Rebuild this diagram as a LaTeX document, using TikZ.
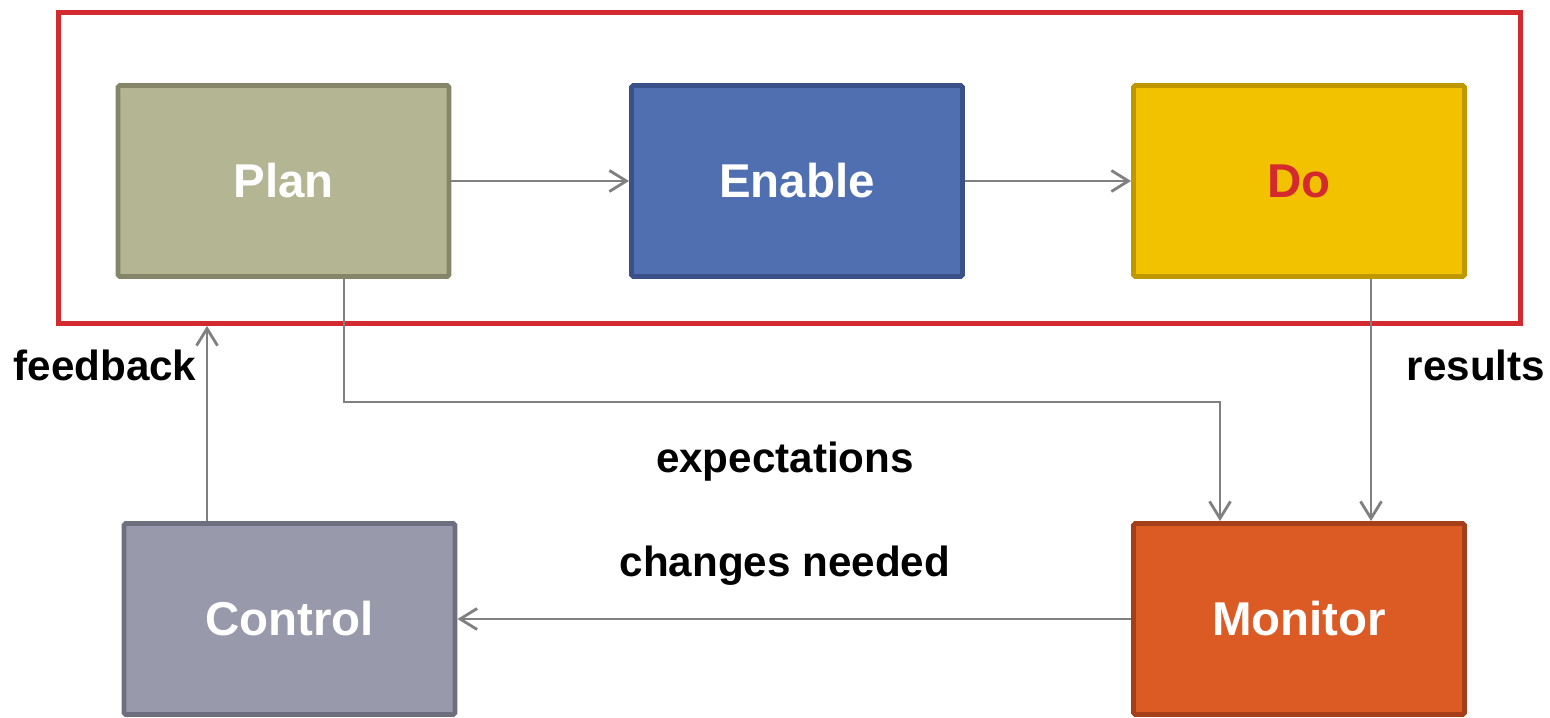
\documentclass[tikz,border=0pt]{standalone}
\usepackage{fontspec}
\setmainfont{Liberation Sans}
\usetikzlibrary{positioning, calc, arrows.meta}
\definecolor{planFill}{HTML}{B4B592}
\definecolor{planLine}{HTML}{85856A}
\definecolor{enableFill}{HTML}{506FB0}
\definecolor{enableLine}{HTML}{3A5088}
\definecolor{doFill}{HTML}{F2C200}
\definecolor{doLine}{HTML}{BF9800}
\definecolor{doText}{HTML}{D42A2E}
\definecolor{controlFill}{HTML}{9899AA}
\definecolor{controlLine}{HTML}{6E6F7E}
\definecolor{monitorFill}{HTML}{DC5A24}
\definecolor{monitorLine}{HTML}{A43F19}
\definecolor{frameLine}{HTML}{D22A2E}
\colorlet{linkGray}{black!50}
\tikzstyle{stage}=[rectangle, rounded corners=1pt, line width=2.8pt,
  minimum width=6.62cm, minimum height=3.82cm, text=white,
  font=\bfseries\fontsize{27}{32}\selectfont]
\tikzstyle{phaseFrame}=[rectangle, draw=frameLine, line width=2.8pt,
  minimum width=29.24cm, minimum height=6.22cm]
\tikzstyle{link}=[-{Straight Barb[length=3.4mm,width=4.2mm]}, line width=1.6pt,
  draw=linkGray]
\tikzstyle{flowLabel}=[font=\bfseries\fontsize{24}{28}\selectfont, anchor=base,
  inner sep=0pt]

\begin{document}
\begin{tikzpicture}
      \useasboundingbox (0,0) rectangle (31,14.34);

      \node[phaseFrame] (phase) at (15.79,10.98) {};
      \node[stage, fill=planFill, draw=planLine] (plan) at (5.67,10.72) {Plan};
      \node[stage, fill=enableFill, draw=enableLine] (enable) at (15.94,10.72) {Enable};
      \node[stage, fill=doFill, draw=doLine, text=doText] (do) at (25.98,10.72) {Do};
      \node[stage, fill=controlFill, draw=controlLine] (control) at (5.79,1.96) {Control};
      \node[stage, fill=monitorFill, draw=monitorLine] (monitor) at (25.98,1.96) {Monitor};

      \coordinate (expBend) at (24.4,6.3);

      \draw[link] (plan) -- (enable);
      \draw[link] (enable) -- (do);
      \draw[link] ([xshift=12.1mm]plan.south) |- (expBend) -- (expBend |- monitor.north);
      \draw[link] ([xshift=14.4mm]do.south) -- ([xshift=14.4mm]monitor.north);
      \draw[link] (monitor) -- (control);
      \draw[link] ([xshift=-16.5mm]control.north) -- ([xshift=-16.5mm]control.north |- phase.south);

      \node[flowLabel] (feedbackLbl) at (2.1,6.72) {feedback};
      \node[flowLabel] (resultsLbl) at (29.52,6.72) {results};
      \node[flowLabel] (expectLbl) at (15.7,4.9) {expectations};
      \node[flowLabel] (changesLbl) at (15.7,2.82) {changes needed};
    \end{tikzpicture}
\end{document}
